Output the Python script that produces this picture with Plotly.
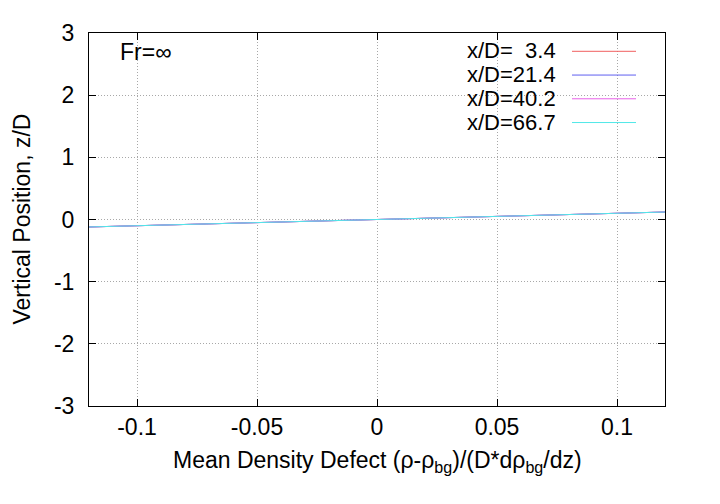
import plotly.graph_objects as go

# Data
z_pos = [-3.0, -2.0, -1.0, -0.5, -0.25, 0.0, 0.25, 0.5, 1.0, 2.0, 3.0]
defect_3_4 = [-3.0, -2.0, -1.0, -0.5, -0.245, 0.005, 0.255, 0.505, 1.0, 2.0, 3.0]
defect_21_4 = [-3.0, -2.0, -1.0, -0.5, -0.245, 0.005, 0.255, 0.505, 1.0, 2.0, 3.0]
defect_40_2 = [-3.0, -2.0, -1.0, -0.5, -0.245, 0.004, 0.254, 0.504, 1.0, 2.0, 3.0]
defect_66_7 = [-3.0, -2.0, -1.0, -0.5, -0.247, 0.003, 0.253, 0.503, 1.0, 2.0, 3.0]
series_names = ["x/D=\u00a0\u00a03.4", "x/D=21.4", "x/D=40.2", "x/D=66.7"]
series_values = [defect_3_4, defect_21_4, defect_40_2, defect_66_7]
colors = ["#f06060", "#6060f0", "#e860e8", "#50e8e8"]
x_ticks = [-0.1, -0.05, 0, 0.05, 0.1]
x_tick_labels = ["-0.1", "-0.05", "0", "0.05", "0.1"]
y_ticks = [-3, -2, -1, 0, 1, 2, 3]
y_tick_labels = ["-3", "-2", "-1", "0", "1", "2", "3"]

FONT = "Liberation Sans, Arial, sans-serif"
FS = 23
FS_LEG = 22
OFF = 8  # page body margin

W, H = 720, 504
# target plot area in window pixels
PL, PR, PT, PB = 89, 665, 29, 406
L, T = PL - OFF, PT - OFF
R = W - (PR - OFF)
B = H - (PB - OFF)
pw, ph = PR - PL, PB - PT

fig = go.Figure()
for name, vals, col in zip(series_names, series_values, colors):
    fig.add_trace(go.Scatter(x=vals, y=z_pos, mode="lines", name=name,
                             line=dict(color=col, width=1), showlegend=False))


def px(xp):
    return (xp - PL) / pw


def py(yp):
    return (PB - yp) / ph


annotations = []
shapes = []
rows = [47, 71, 95, 119]
for name, col, yr in zip(series_names, colors, rows):
    annotations.append(dict(xref="paper", yref="paper", x=px(558), y=py(yr),
                            xanchor="right", yanchor="middle", text=name,
                            showarrow=False, font=dict(family=FONT, size=FS_LEG, color="black")))
    shapes.append(dict(type="line", xref="paper", yref="paper",
                       x0=px(572), x1=px(636), y0=py(yr + 0.5), y1=py(yr + 0.5),
                       line=dict(color=col, width=1)))

annotations.append(dict(xref="paper", yref="paper", x=px(118), y=py(48),
                        xanchor="left", yanchor="middle", text="Fr=\u221e",
                        showarrow=False, font=dict(family=FONT, size=FS, color="black")))
annotations.append(dict(xref="paper", yref="paper", x=0.5, y=py(462),
                        xanchor="center", yanchor="middle",
                        text="Mean Density Defect (\u03c1-\u03c1<sub>bg</sub>)/(D*d\u03c1<sub>bg</sub>/dz)",
                        showarrow=False, font=dict(family=FONT, size=FS, color="black")))
annotations.append(dict(xref="paper", yref="paper", x=px(21), y=py(217.5),
                        xanchor="center", yanchor="middle", textangle=-90,
                        text="Vertical Position, z/D",
                        showarrow=False, font=dict(family=FONT, size=FS, color="black")))

axis_common = dict(showline=True, linecolor="black", linewidth=1, mirror="ticks",
                   ticks="inside", ticklen=7, tickcolor="black", showgrid=True,
                   gridcolor="#a8a8a8", griddash="1px,2px", gridwidth=1, zeroline=False,
                   tickfont=dict(family=FONT, size=FS, color="black"))

fig.update_layout(
    width=W, height=H, margin=dict(l=L, r=R, t=T, b=B),
    paper_bgcolor="white", plot_bgcolor="white",
    xaxis=dict(range=[-0.12, 0.12], tickvals=x_ticks, ticktext=x_tick_labels,
               ticklabelstandoff=0, **axis_common),
    yaxis=dict(range=[-3, 3], tickvals=y_ticks, ticktext=y_tick_labels,
               ticklabelstandoff=9, **axis_common),
    annotations=annotations, shapes=shapes, showlegend=False,
)

fig.write_html("out.html")
